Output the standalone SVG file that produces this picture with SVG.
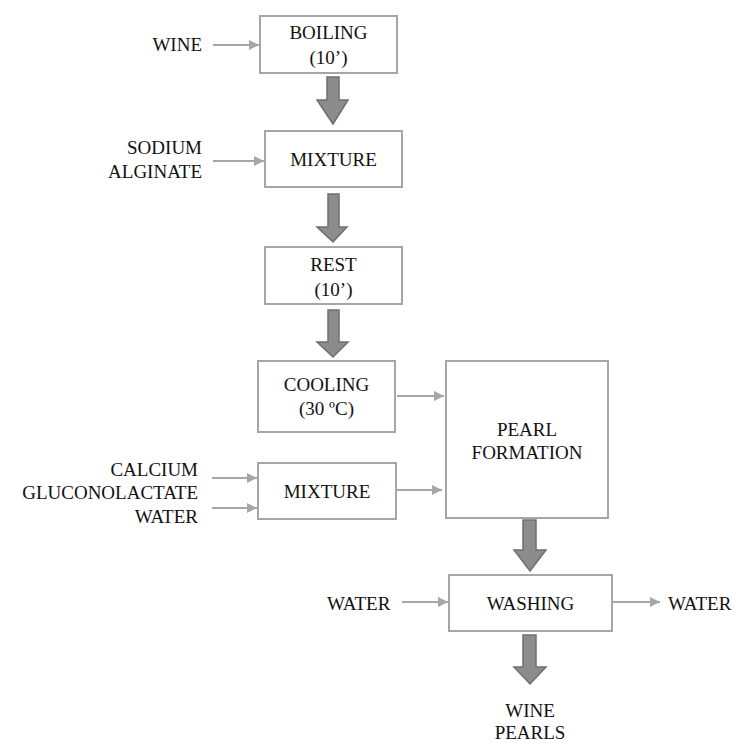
<svg xmlns="http://www.w3.org/2000/svg" width="737" height="743" viewBox="0 0 737 743">
<defs>
<style>
.box{fill:#fff;stroke:#a6a6a6;stroke-width:2}
.t{font-family:'Liberation Serif','DejaVu Serif',Times,serif;font-size:19px;fill:#111}
.c{text-anchor:middle}
.r{text-anchor:end}
.ln{stroke:#a6a6a6;stroke-width:2;fill:none;marker-end:url(#ah)}
.blk{fill:#8c8c8c;stroke:#6f6f6f;stroke-width:1.5}
</style>
<marker id="ah" markerUnits="userSpaceOnUse" markerWidth="10" markerHeight="10" refX="10" refY="5" orient="auto">
<path d="M0,0 L10,5 L0,10 Z" fill="#a6a6a6"/>
</marker>
</defs>
<rect width="737" height="743" fill="#fff"/>
<g font-family="Liberation Serif, DejaVu Serif, serif">
<g id="boiling"><rect class="box" x="260" y="16" width="137" height="57"/><text class="t c" x="328.5" y="39">BOILING</text><text class="t c" x="328.5" y="64">(10’)</text></g>
<g id="mixture1"><rect class="box" x="265" y="131" width="137" height="56"/><text class="t c" x="333.5" y="166">MIXTURE</text></g>
<g id="rest"><rect class="box" x="265" y="247" width="137" height="57"/><text class="t c" x="333.5" y="271">REST</text><text class="t c" x="333.5" y="296">(10’)</text></g>
<g id="cooling"><rect class="box" x="258" y="361" width="137" height="71"/><text class="t c" x="326.5" y="391">COOLING</text><text class="t c" x="326.5" y="415">(30 ºC)</text></g>
<g id="mixture2"><rect class="box" x="258" y="463" width="138" height="56"/><text class="t c" x="327" y="498">MIXTURE</text></g>
<g id="pearl"><rect class="box" x="446" y="361" width="162" height="157"/><text class="t c" x="527" y="436">PEARL</text><text class="t c" x="527" y="459">FORMATION</text></g>
<g id="washing"><rect class="box" x="449" y="575" width="163" height="56"/><text class="t c" x="530.5" y="610">WASHING</text></g>
<g id="labels">
<text class="t r" x="202" y="51">WINE</text>
<text class="t r" x="202" y="154">SODIUM</text>
<text class="t r" x="202" y="178">ALGINATE</text>
<text class="t r" x="198" y="476">CALCIUM</text>
<text class="t r" x="198" y="499">GLUCONOLACTATE</text>
<text class="t r" x="198" y="523">WATER</text>
<text class="t" x="327" y="610">WATER</text>
<text class="t" x="668" y="610">WATER</text>
<text class="t c" x="530" y="717">WINE</text>
<text class="t c" x="530" y="739">PEARLS</text>
</g>
</g>
<g id="connectors">
<line class="ln" x1="213" y1="45" x2="259" y2="45"/>
<line class="ln" x1="213" y1="161" x2="264" y2="161"/>
<line class="ln" x1="212" y1="478" x2="257" y2="478"/>
<line class="ln" x1="212" y1="508" x2="257" y2="508"/>
<line class="ln" x1="397" y1="396" x2="444" y2="396"/>
<line class="ln" x1="397" y1="490" x2="442" y2="490"/>
<line class="ln" x1="402" y1="602" x2="448" y2="602"/>
<line class="ln" x1="613" y1="602" x2="660" y2="602"/>
<path class="blk" d="M327,77 H339 V100 H348 L333,124 L317,100 H327 Z"/>
<path class="blk" d="M328,194 H339 V227 H347 L333,242 L317,227 H328 Z"/>
<path class="blk" d="M328,310 H339 V342 H348 L333,357 L317,342 H328 Z"/>
<path class="blk" d="M523,520 H536 V550 H546 L530,571 L514,550 H523 Z"/>
<path class="blk" d="M523,635 H536 V667 H546 L530,684 L514,667 H523 Z"/>
</g>
</svg>
